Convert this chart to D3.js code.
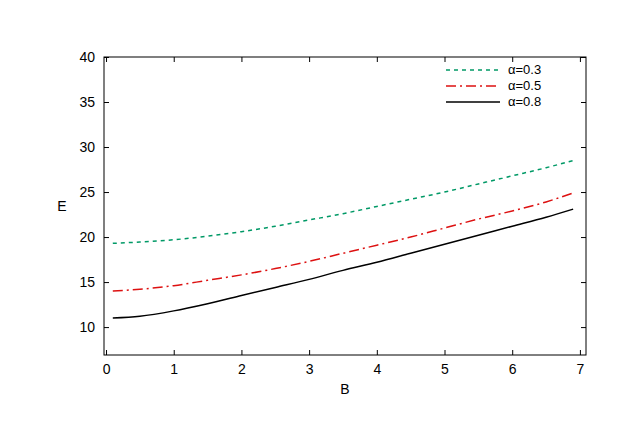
<!DOCTYPE html>
<html><head><meta charset="utf-8">
<script src="https://cdn.jsdelivr.net/npm/d3@7"></script>
<style>body{margin:0;background:#fff}text{font-family:"Liberation Sans",Arial,sans-serif}</style>
</head><body>
<svg id="chart" width="637" height="443"></svg>
<script>
// Data
const bValues = [0.1, 0.5, 1, 1.5, 2, 2.5, 3, 3.5, 4, 4.5, 5, 5.5, 6, 6.5, 6.9];
const alpha03 = [19.3, 19.45, 19.7, 20.1, 20.6, 21.2, 21.9, 22.6, 23.4, 24.2, 25.0, 25.9, 26.8, 27.7, 28.5];
const alpha05 = [14.0, 14.2, 14.6, 15.2, 15.8, 16.5, 17.3, 18.2, 19.1, 20.0, 21.0, 22.0, 22.9, 23.9, 24.9];
const alpha08 = [11.0, 11.2, 11.8, 12.6, 13.5, 14.4, 15.3, 16.3, 17.2, 18.2, 19.2, 20.2, 21.2, 22.2, 23.1];
const xTicks = [0, 1, 2, 3, 4, 5, 6, 7];
const yTicks = [10, 15, 20, 25, 30, 35, 40];

const series = [
  { label: 'α=0.3', values: alpha03, color: '#009966', dash: '4,4' },
  { label: 'α=0.5', values: alpha05, color: '#dd1111', dash: '10,4,2,4' },
  { label: 'α=0.8', values: alpha08, color: '#000000', dash: null }
];

const svg = d3.select('#chart');
const x = d3.scaleLinear().domain([-0.03, 7.09]).range([104, 586]);
const y = d3.scaleLinear().domain([6.9, 40]).range([355, 57]);

svg.append('rect').attr('x', 104).attr('y', 57).attr('width', 482).attr('height', 298)
  .attr('fill', 'none').attr('stroke', '#000');

const xa = svg.append('g').attr('transform', 'translate(0,355)')
  .call(d3.axisBottom(x).tickValues(xTicks).tickSizeInner(-5).tickSizeOuter(0).tickPadding(9));
const ya = svg.append('g').attr('transform', 'translate(104,0)')
  .call(d3.axisLeft(y).tickValues(yTicks).tickSizeInner(-5).tickSizeOuter(0).tickPadding(9));
[xa, ya].forEach(a => { a.select('.domain').remove(); a.selectAll('text').attr('font-size', 14); });
// mirrored ticks on top and right
svg.append('g').attr('transform', 'translate(0,57)')
  .call(d3.axisTop(x).tickValues(xTicks).tickSizeInner(-5).tickSizeOuter(0).tickFormat(''))
  .select('.domain').remove();
svg.append('g').attr('transform', 'translate(586,0)')
  .call(d3.axisRight(y).tickValues(yTicks).tickSizeInner(-5).tickSizeOuter(0).tickFormat(''))
  .select('.domain').remove();

svg.append('text').attr('x', 345).attr('y', 394).attr('text-anchor', 'middle').attr('font-size', 14).text('B');
svg.append('text').attr('x', 62).attr('y', 211).attr('text-anchor', 'middle').attr('font-size', 14).text('E');

const line = d3.line().x((d, i) => x(bValues[i])).y(d => y(d)).curve(d3.curveMonotoneX);
series.forEach((s, k) => {
  svg.append('path').datum(s.values).attr('d', line).attr('fill', 'none')
    .attr('stroke', s.color).attr('stroke-width', 1.5).attr('stroke-dasharray', s.dash);
  const ly = 70 + k * 16;
  svg.append('line').attr('x1', 446).attr('x2', 500).attr('y1', ly).attr('y2', ly)
    .attr('stroke', s.color).attr('stroke-width', 1.5).attr('stroke-dasharray', s.dash);
  svg.append('text').attr('x', 508).attr('y', ly + 4).attr('font-size', 13).text(s.label);
});
</script>
</body></html>
